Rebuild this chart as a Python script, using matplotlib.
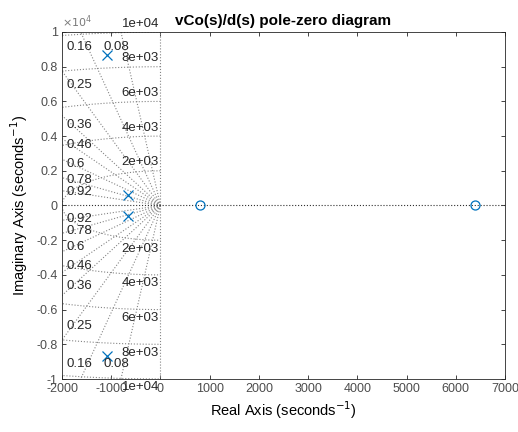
import numpy as np
import matplotlib.pyplot as plt

plt.rcParams['font.family'] = ['Liberation Sans', 'DejaVu Sans']
plt.rcParams['axes.unicode_minus'] = False

# pole / zero locations (real, imag) in seconds^-1
pole_re = [-1080, -1080, -650, -650]
pole_im = [8690, -8690, 620, -620]
zero_re = [800, 6400]
zero_im = [0, 0]

# grid values
zetas = [0.08, 0.16, 0.25, 0.36, 0.46, 0.6, 0.78, 0.92]
wns = [2000, 4000, 6000, 8000, 10000]
wn_labels = ['2e+03', '4e+03', '6e+03', '8e+03', '1e+04']

xticks = [-2000, -1000, 0, 1000, 2000, 3000, 4000, 5000, 6000, 7000]
xlabels = ['-2000', '-1000', '0', '1000', '2000', '3000', '4000', '5000', '6000', '7000']
yticks = [-10000, -8000, -6000, -4000, -2000, 0, 2000, 4000, 6000, 8000, 10000]
ylabels = ['-1', '-0.8', '-0.6', '-0.4', '-0.2', '0', '0.2', '0.4', '0.6', '0.8', '1']

xmin, xmax = -2000, 7000
ymin, ymax = -10000, 10000

fig = plt.figure(figsize=(5.18, 4.32), dpi=100)
ax = fig.add_axes([62 / 518, 1 - 379 / 432, 443 / 518, 347 / 432])

gc = '#858585'
# damping lines, drawn from the origin outwards
for z in zetas:
    wd = np.sqrt(1 - z ** 2)
    for s in (1, -1):
        ax.plot([0, -z * 1e5], [0, s * wd * 1e5], ls=':', color=gc, lw=0.8)
ax.plot([0, 0], [0, 1e5], ls=':', color=gc, lw=0.8)
ax.plot([0, 0], [0, -1e5], ls=':', color=gc, lw=0.8)

# natural frequency circles (left half plane)
th = np.linspace(np.pi / 2, 3 * np.pi / 2, 400)
for w in wns:
    ax.plot(w * np.cos(th), w * np.sin(th), ls=':', color=gc, lw=0.8)

# real axis
ax.plot([xmin, xmax], [0, 0], ls=':', color='#303030', lw=0.8)

# damping labels
for z in zetas:
    slope = np.sqrt(1 - z ** 2) / z
    y_left = 1800 * slope
    if y_left < 9000:
        for s in (1, -1):
            ax.text(-1900, s * y_left, f'{z:g}', ha='left', va='center',
                    fontsize=9.5, color='#262626')
    else:
        xt = -9200 / slope - 150
        for s in (1, -1):
            ax.text(xt, s * 9150, f'{z:g}', ha='center', va='center',
                    fontsize=9.5, color='#262626')

# natural frequency labels
for w, lab in zip(wns, wn_labels):
    for s in (1, -1):
        ax.text(-30, s * (w + 480), lab, ha='right', va='center',
                fontsize=9.5, color='#262626', clip_on=False)

ax.plot(pole_re, pole_im, 'x', color='#0072BD', ms=6.5, mew=0.9, ls='none')
ax.plot(zero_re, zero_im, 'o', color='#0072BD', ms=6.5, mew=0.9, mfc='none', ls='none')

ax.set_xlim(xmin, xmax)
ax.set_ylim(ymin, ymax)
ax.set_xticks(xticks)
ax.set_xticklabels(xlabels)
ax.set_yticks(yticks)
ax.set_yticklabels(ylabels)
ax.tick_params(direction='in', top=True, right=True, length=3, width=0.6,
               labelsize=9, colors='#262626', labelcolor='#4d4d4d', pad=3)
for sp in ax.spines.values():
    sp.set_color('#262626')
    sp.set_linewidth(0.6)

ax.text(0.0, 1.006, r'$\times10^{4}$', transform=ax.transAxes, ha='left', va='bottom',
        fontsize=8, color='#7a7a7a')
ax.set_title('vCo(s)/d(s) pole-zero diagram', fontsize=11, fontweight='bold', pad=5)
ax.set_xlabel('Real Axis (seconds$^{-1}$)', fontsize=10.5, labelpad=3)
ax.set_ylabel('Imaginary Axis (seconds$^{-1}$)', fontsize=10.5, labelpad=5)

fig.savefig('out.png', dpi=100)
